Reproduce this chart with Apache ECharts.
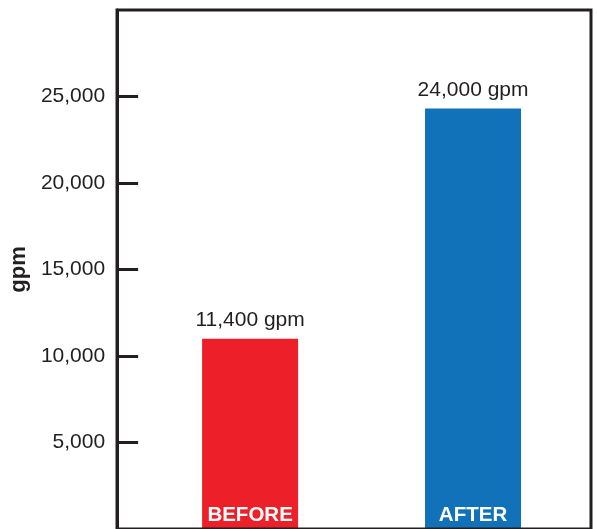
<!DOCTYPE html>
<html>
<head>
<meta charset="utf-8">
<script src="https://cdn.jsdelivr.net/npm/echarts@6/dist/echarts.min.js"></script>
<style>
html,body{margin:0;padding:0;background:#fff;}
#chart{width:597px;height:529px;}
</style>
</head>
<body>
<div id="chart"></div>
<script>
var categories = ['BEFORE', 'AFTER'];
var flowValues = [11000, 24300];
var valueLabels = ['11,400 gpm', '24,000 gpm'];
var barColors = ['#ed1f28', '#1172b9'];
var yTicks = [5000, 10000, 15000, 20000, 25000];

var FONT = '"Liberation Sans", Arial, Helvetica, sans-serif';
var INK = '#231f20';

var chart = echarts.init(document.getElementById('chart'));
chart.setOption({
  animation: false,
  backgroundColor: '#fff',
  grid: [
    { left: 138.5, width: 446, top: 10, height: 520 },
    { left: 117, width: 474, top: 10, height: 520, show: true, borderColor: INK, borderWidth: 3, backgroundColor: 'transparent', z: 5 }
  ],
  xAxis: [
    {
      type: 'category', gridIndex: 0, data: categories, z: 10,
      axisLine: { show: false }, axisTick: { show: false },
      axisLabel: { inside: true, margin: 3, color: '#fff', fontWeight: 'bold', fontSize: 20.5, fontFamily: FONT }
    },
    { type: 'value', gridIndex: 1, show: false, min: 0, max: 1 }
  ],
  yAxis: [
    {
      type: 'value', gridIndex: 0, min: 0, max: 30000, interval: 5000, offset: 21.5,
      name: 'gpm', nameLocation: 'middle', nameGap: 82, nameRotate: 90,
      nameTextStyle: { fontWeight: 'bold', fontSize: 22, color: INK, fontFamily: FONT },
      axisLine: { show: true, lineStyle: { color: INK, width: 3 } },
      axisTick: { show: true, inside: true, length: 21, lineStyle: { color: INK, width: 3 },
        customValues: yTicks },
      splitLine: { show: false },
      axisLabel: {
        margin: 12, fontSize: 21, color: INK, fontFamily: FONT,
        customValues: yTicks,
        formatter: function (v) { return v.toLocaleString('en-US'); }
      }
    },
    { type: 'value', gridIndex: 1, show: false, min: 0, max: 1 }
  ],
  series: [{
    type: 'bar',
    xAxisIndex: 0, yAxisIndex: 0,
    barWidth: 96,
    data: flowValues.map(function (v, i) {
      return { value: v, itemStyle: { color: barColors[i] } };
    }),
    label: {
      show: true, position: 'top', distance: 8,
      fontSize: 21, color: INK, fontFamily: FONT,
      formatter: function (p) { return valueLabels[p.dataIndex]; }
    }
  }]
});
</script>
</body>
</html>
